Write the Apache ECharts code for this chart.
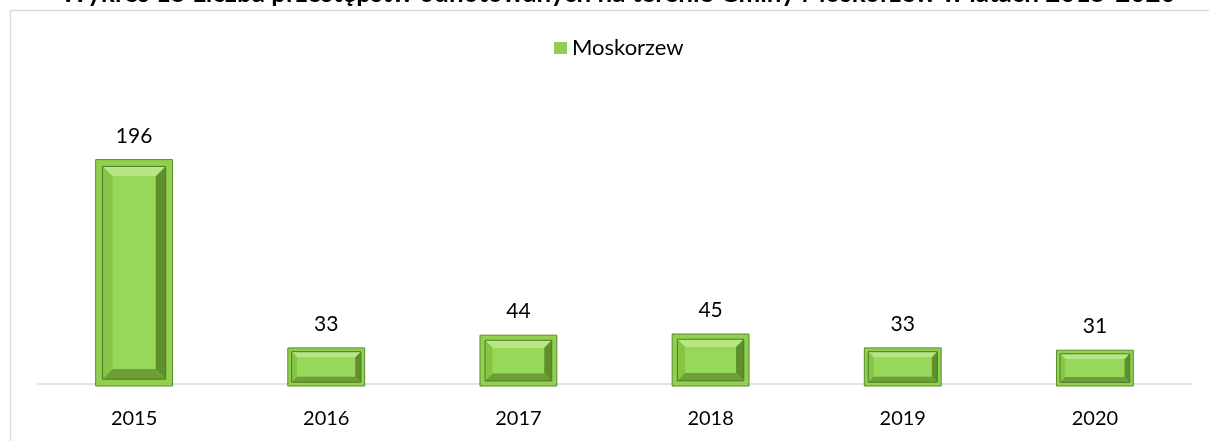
<!DOCTYPE html>
<html>
<head>
<meta charset="utf-8">
<script src="https://cdn.jsdelivr.net/npm/echarts@6/dist/echarts.min.js"></script>
<style>
  html, body { margin: 0; padding: 0; background: #fff; }
  #chart { width: 1209px; height: 441px; }
</style>
</head>
<body>
<div id="chart"></div>
<script>
const titleText = 'Wykres 15 Liczba przestępstw odnotowanych na terenie Gminy Moskorzew w latach 2015-2020'
const seriesName = 'Moskorzew'
const years = ['2015', '2016', '2017', '2018', '2019', '2020']
const crimes = [196, 33, 44, 45, 33, 31]

const FONT = 'Lato, "Noto Sans", sans-serif'
const chart = echarts.init(document.getElementById('chart'))

// bevelled bar, drawn from the axis coordinates
function renderBevelBar(params, api) {
  const top = api.coord([api.value(0), api.value(1)])
  const base = api.coord([api.value(0), 0])
  const w = api.size([1, 0])[0] * 0.4
  const x0 = top[0] - w / 2, x1 = top[0] + w / 2
  const y0 = top[1], y1 = base[1]
  const h = y1 - y0
  const inset = Math.min(17, h * 0.25)
  const f = inset * 0.4
  const ix0 = x0 + f, ix1 = x1 - f, iy0 = y0 + f, iy1 = y1 - f
  const fx0 = x0 + inset, fx1 = x1 - inset, fy0 = y0 + inset, fy1 = y1 - inset
  return {
    type: 'group',
    children: [
      { type: 'rect', shape: { x: x0, y: y0, width: w, height: h },
        style: { fill: '#8fd14f', stroke: '#5c8a2c', lineWidth: 1 } },
      { type: 'polygon', shape: { points: [[ix0, iy0], [ix1, iy0], [fx1, fy0], [fx0, fy0]] },
        style: { fill: '#b9e684' } },
      { type: 'polygon', shape: { points: [[ix0, iy0], [fx0, fy0], [fx0, fy1], [ix0, iy1]] },
        style: { fill: '#86c545' } },
      { type: 'polygon', shape: { points: [[ix1, iy0], [ix1, iy1], [fx1, fy1], [fx1, fy0]] },
        style: { fill: '#5e8f2c' } },
      { type: 'polygon', shape: { points: [[ix0, iy1], [fx0, fy1], [fx1, fy1], [ix1, iy1]] },
        style: { fill: '#6d9f36' } },
      { type: 'rect', shape: { x: ix0, y: iy0, width: ix1 - ix0, height: iy1 - iy0 },
        style: { fill: 'none', stroke: '#4e7a24', lineWidth: 1 } },
      { type: 'rect', shape: { x: fx0, y: fy0, width: fx1 - fx0, height: fy1 - fy0 },
        style: { fill: '#97d75a' } },
      { type: 'text', style: { text: String(api.value(1)), x: top[0], y: y0 - 13,
        textAlign: 'center', textVerticalAlign: 'bottom', fill: '#000', font: '21px ' + FONT } }
    ]
  }
}

chart.setOption({
  animation: false,
  graphic: [
    { type: 'rect', z: -10, shape: { x: 10.5, y: 10.5, width: 1400, height: 600 },
      style: { fill: 'none', stroke: '#d9d9d9', lineWidth: 1.5 } },
    { type: 'text', x: 618, y: -19,
      style: { text: titleText, font: 'bold 26px ' + FONT, fill: '#000',
        textAlign: 'center', textVerticalAlign: 'top' } }
  ],
  legend: {
    top: 37,
    left: 554,
    padding: 0,
    icon: 'rect',
    itemWidth: 13,
    itemHeight: 12,
    textStyle: { fontFamily: FONT, fontSize: 22, color: '#000' },
    data: [seriesName]
  },
  grid: { left: 38, right: 18, top: 155, bottom: 55 },
  xAxis: {
    type: 'category',
    data: years,
    offset: -2,
    axisLine: { lineStyle: { color: '#d9d9d9', width: 1.5 } },
    axisTick: { show: false },
    axisLabel: { color: '#000', fontFamily: FONT, fontSize: 20, margin: 25 }
  },
  yAxis: { type: 'value', min: 0, max: 200, show: false, splitLine: { show: false } },
  series: [{
    name: seriesName,
    type: 'custom',
    z: 3,
    itemStyle: { color: '#8fd14f' },
    renderItem: renderBevelBar,
    encode: { x: 0, y: 1 },
    data: years.map((y, i) => [i, crimes[i]])
  }]
})
</script>
</body>
</html>
